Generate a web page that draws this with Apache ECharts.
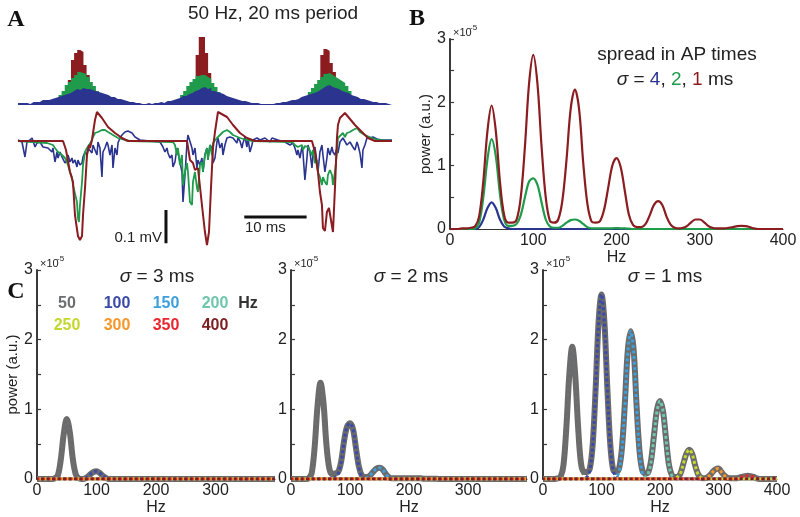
<!DOCTYPE html>
<html><head><meta charset="utf-8">
<script src="https://cdn.jsdelivr.net/npm/echarts@6/dist/echarts.min.js"></script>
<style>html,body{margin:0;padding:0;background:#fff}#c{width:800px;height:517px}</style>
</head><body><div id="c"></div>
<script>
// ---------- Panel A: AP-time histograms (0.5 ms bins, 0-60 ms) ----------
const histBlue = [2,2,2,1,3,3,3,5,5,5, 6,7,8,9,10,11,12,14,16,15, 17,16,16,15,14,13,12,11,10,8, 8,6,6,5,4,3,3,2,2,1,
  1,2,1,2,2,3,2,4,4,5, 6,7,9,9,11,12,14,15,17,18, 16,17,14,13,12,11,9,8,7,6, 5,4,4,3,2,2,2,1,1,1,
  1,1,2,2,3,3,4,5,5,6, 8,9,10,11,12,13,15,17,19,20, 18,17,16,14,13,12,10,9,8,6, 6,5,4,3,3,2,2,2,1,1];
const histGreen = [0,0,0,0,0,0,0,1,1,2, 3,4,6,10,14,20,23,27,30,33, 32,31,28,23,19,14,10,6,4,3, 2,1,1,0,0,0,0,0,0,0,
  0,0,0,0,0,0,1,1,2,3, 4,6,10,14,19,23,26,29,30,30, 28,26,22,18,13,9,6,4,3,2, 1,1,0,0,0,0,0,0,0,0,
  0,0,0,0,0,0,1,1,2,3, 4,6,9,13,17,21,25,28,31,32, 30,28,26,24,22,19,14,9,6,4, 2,1,1,0,0,0,0,0,0,0];
const histRed = [0,0,0,0,0,0,0,0,0,0, 0,0,0,0,5,12,25,45,52,55, 53,40,30,14,6,2,0,0,0,0, 0,0,0,0,0,0,0,0,0,0,
  0,0,0,0,0,0,0,0,0,0, 0,0,0,0,0,6,18,50,68,68, 52,32,14,5,0,0,0,0,0,0, 0,0,0,0,0,0,0,0,0,0,
  0,0,0,0,0,0,0,0,0,0, 0,0,0,0,0,8,20,50,56,54, 42,33,15,6,0,0,0,0,0,0, 0,0,0,0,0,0,0,0,0,0];
const histBinWidth = 0.5; // ms
const histEnd = 60;       // ms

// ---------- Panel A: simulated LFP traces [ms, µV] ----------
const traceRed = [[0,0],[7.22,0],[7.70,-27],[8.34,-93],[8.82,-123],[9.14,-222],[9.62,-285],[9.94,-297],[10.27,-285],[10.43,-222],[10.75,-141],[11.07,-42],[11.39,-12],[11.55,-21],[11.87,3],[12.35,63],[12.67,87],[13.47,69],[14.44,42],[15.56,24],[16.68,9],[17.64,0],
  [27.11,0],[27.59,-57],[28.07,-66],[28.39,-87],[28.87,-81],[29.51,-192],[29.99,-273],[30.32,-312],[30.64,-273],[30.96,-141],[31.28,-21],[31.60,27],[32.08,87],[33.53,72],[34.49,48],[35.61,24],[36.73,9],[38.01,0],
  [47.16,0],[47.64,-33],[48.12,-93],[48.44,-153],[48.76,-192],[48.92,-261],[49.24,-270],[49.56,-213],[49.89,-201],[50.21,-237],[50.53,-273],[50.85,-141],[51.17,9],[51.33,48],[51.65,69],[52.45,84],[54.06,48],[55.18,27],[56.14,9],[57.27,0],[60,0]];
const traceGreen = [[0,0],[4.65,-6],[4.81,-12],[5.61,-12],[5.93,-21],[6.42,-33],[7.06,-42],[7.54,-51],[8.02,-72],[8.34,-93],[8.66,-108],[8.82,-132],[9.14,-138],[9.46,-183],[9.62,-231],[9.78,-243],[9.94,-192],[10.27,-123],[10.43,-72],[10.75,-33],[11.07,-21],[11.39,-18],[11.71,-3],[12.03,12],[12.35,24],[12.83,27],[13.47,33],[13.95,33],[14.44,27],[15.24,18],[16.04,9],[17.16,3],[17.96,0],
  [24.86,-3],[25.18,-12],[25.50,-42],[25.66,-21],[25.98,-72],[26.31,-42],[26.47,-132],[26.79,-93],[27.11,-66],[27.27,-93],[27.59,-183],[27.91,-192],[28.07,-123],[28.39,-93],[28.71,-141],[28.87,-153],[29.19,-72],[29.51,-63],[29.67,-93],[29.99,-42],[30.32,-21],[30.48,-57],[30.80,-12],[31.12,-42],[31.28,-6],[31.92,9],[32.40,18],[32.88,27],[33.52,33],[34.00,27],[34.49,18],[35.61,9],[36.73,3],[37.69,0],
  [43.95,-3],[44.43,-12],[44.91,-18],[45.55,-12],[45.71,-27],[46.03,-15],[46.52,-18],[47.16,-42],[47.32,-27],[47.64,-66],[47.96,-57],[48.12,-93],[48.44,-108],[48.76,-132],[48.92,-108],[49.24,-123],[49.56,-132],[49.72,-102],[50.04,-87],[50.37,-102],[50.53,-132],[50.85,-93],[51.17,-33],[51.33,9],[51.65,12],[52.13,24],[52.45,12],[52.77,24],[53.25,27],[53.73,33],[54.38,39],[54.86,27],[55.66,18],[56.78,9],[57.74,3],[60,0]];
const traceBlue = [[0,3],[0.32,0],[0.64,-3],[1.12,-48],[1.44,-3],[1.92,3],[2.25,9],[2.41,0],[2.73,-18],[3.05,-6],[3.21,-12],[3.53,-3],[4.01,-18],[4.33,-12],[4.81,-21],[5.13,-21],[5.45,-33],[5.61,-21],[5.93,-63],[6.26,-33],[6.42,-51],[6.74,-33],[7.06,-48],[7.22,-42],[7.54,-66],[7.86,-57],[8.02,-42],[8.34,-63],[8.66,-51],[8.82,-66],[9.14,-57],[9.46,-78],[9.62,-57],[9.94,-72],[10.27,-66],[10.43,-48],[10.75,-33],[11.07,-42],[11.23,-21],[11.55,-18],[11.87,-36],[12.03,-12],[12.35,-6],[12.67,-42],[12.83,-3],[13.15,-21],[13.47,-108],[13.63,-33],[13.95,-21],[14.28,-3],[14.44,-12],[14.76,-42],[15.08,-12],[15.24,-81],[15.56,-21],[15.88,-42],[16.04,-6],[16.36,9],[16.68,18],[17.16,27],[17.64,30],[18.29,24],[18.77,12],[19.57,3],[21.17,0],
  [22.78,-3],[23.26,-18],[23.58,-33],[23.90,-21],[24.06,-36],[24.38,-51],[24.70,-42],[24.86,-78],[25.18,-63],[25.50,-21],[25.66,-33],[25.98,-63],[26.31,-93],[26.47,-183],[26.79,-102],[27.11,-6],[27.27,18],[27.59,12],[27.91,-21],[28.07,-42],[28.39,-21],[28.71,-81],[28.87,-57],[29.19,-72],[29.51,-51],[29.67,-93],[29.99,-42],[30.32,-21],[30.48,-51],[30.80,-12],[31.12,-21],[31.28,-66],[31.60,-51],[31.92,-3],[32.08,9],[32.40,-21],[32.72,-6],[32.88,-42],[33.20,-12],[33.52,9],[34.00,12],[34.49,9],[35.13,-6],[35.29,9],[35.61,0],[35.93,-21],[36.09,-6],[36.41,12],[36.73,-18],[36.89,9],[37.21,-33],[37.53,-12],[37.69,3],[38.34,9],[38.82,3],[39.62,9],[40.42,-3],[40.74,9],[41.70,3],
  [42.83,-3],[43.63,-12],[44.11,-6],[44.43,-21],[44.75,-42],[44.91,-27],[45.23,-51],[45.55,-18],[45.71,-33],[46.03,-117],[46.36,-51],[46.52,-12],[46.84,-33],[47.16,-81],[47.32,-42],[47.64,-18],[47.96,-63],[48.12,-93],[48.44,-33],[48.76,-12],[48.92,-42],[49.24,-93],[49.56,-51],[49.72,-21],[50.04,-42],[50.37,-18],[50.53,-33],[50.85,-42],[51.17,-21],[51.33,-36],[51.65,-3],[52.13,9],[52.77,-12],[53.25,-3],[53.73,-18],[54.06,-27],[54.38,-3],[54.54,-12],[54.86,-36],[55.18,-81],[55.34,-27],[55.66,-12],[55.98,9],[56.46,9],[56.94,12],[57.58,6],[58.38,3],[60,3]];
const scaleBarMvT = [23.74, 23.74], scaleBarMvV = [-207, -307];   // 0.1 mV bar
const scaleBarMsT = [36.3, 46.3], scaleBarMsV = [-228, -228];     // 10 ms bar

// ---------- Panel B: power spectra (x1e-5), 0..400 Hz step 5 ----------
const freqs = [0,5,10,15,20,25,30,35,40,45,50,55,60,65,70,75,80,85,90,95,100,105,110,115,120,125,130,135,140,145,150,155,160,165,170,175,180,185,190,195,200,205,210,215,220,225,230,235,240,245,250,255,260,265,270,275,280,285,290,295,300,305,310,315,320,325,330,335,340,345,350,355,360,365,370,375,380,385,390,395,400];
const specRed = [0,0,0,0.01,0.01,0.02,0.04,0.2,0.75,1.55, 1.95,1.55,0.75,0.22,0.1,0.1,0.15,0.5,1.3,2.3, 2.75,2.3,1.3,0.5,0.13,0.1,0.15,0.45,1.1,1.9,
  2.2,1.9,1.05,0.4,0.12,0.1,0.12,0.3,0.65,1.0, 1.12,0.98,0.6,0.22,0.06,0.03,0.03,0.08,0.22,0.38, 0.44,0.38,0.2,0.07,0.02,0.01,0.02,0.05,0.11,0.15,
  0.15,0.11,0.05,0.02,0.01,0.01,0.01,0.02,0.03,0.045, 0.05,0.045,0.03,0.01,0,0,0,0,0,0, 0];
const specGreen = [0,0,0,0,0,0,0.01,0.1,0.5,1.1, 1.42,1.15,0.55,0.15,0.05,0.05,0.08,0.22,0.5,0.75, 0.8,0.7,0.42,0.15,0.04,0.02,0.02,0.05,0.1,0.14,
  0.15,0.13,0.08,0.03,0.01,0.01,0.01,0.01,0.01,0.01, 0.015,0.01,0.01,0.005,0,0,0,0,0,0, 0,0,0,0,0,0,0,0,0,0,
  0,0,0,0,0,0,0,0,0,0, 0,0,0,0,0,0,0,0,0,0, 0];
const specBlue = [0,0,0,0,0,0,0,0.03,0.15,0.33, 0.42,0.33,0.15,0.04,0.01,0,0,0,0,0, 0,0,0,0,0,0,0,0,0,0,
  0,0,0,0,0,0,0,0,0,0, 0,0,0,0,0,0,0,0,0,0, 0,0,0,0,0,0,0,0,0,0,
  0,0,0,0,0,0,0,0,0,0, 0,0,0,0,0,0,0,0,0,0, 0];

// ---------- Panel C: total spectra (gray) and per-harmonic components ----------
const totalS3 = [0,0,0,0,0,0,0.01,0.05,0.28,0.65, 0.86,0.68,0.3,0.07,0.01,0,0.005,0.03,0.07,0.1, 0.11,0.09,0.05,0.02,0,0,0,0,0,0,
  0,0,0,0,0,0,0,0,0,0, 0,0,0,0,0,0,0,0,0,0, 0,0,0,0,0,0,0,0,0,0,
  0,0,0,0,0,0,0,0,0,0, 0,0,0,0,0,0,0,0,0,0, 0];
const totalS2 = [0,0,0,0,0,0,0.01,0.08,0.45,1.05, 1.38,1.1,0.5,0.15,0.07,0.08,0.1,0.25,0.55,0.75, 0.8,0.72,0.45,0.18,0.05,0.03,0.03,0.06,0.11,0.15,
  0.16,0.14,0.08,0.03,0.01,0.01,0.01,0.01,0.01,0.01, 0.01,0.01,0.01,0.01,0.01,0.005,0.005,0.005,0.005,0.005, 0,0,0,0,0,0,0,0,0,0,
  0,0,0,0,0,0,0,0,0,0, 0,0,0,0,0,0,0,0,0,0, 0];
const totalS1 = [0,0,0,0,0,0.01,0.03,0.2,0.75,1.5, 1.9,1.5,0.75,0.22,0.1,0.1,0.15,0.5,1.3,2.25, 2.65,2.25,1.3,0.5,0.13,0.1,0.15,0.45,1.1,1.85,
  2.12,1.85,1.05,0.4,0.12,0.08,0.1,0.28,0.65,1.0, 1.12,0.98,0.6,0.22,0.06,0.03,0.03,0.08,0.22,0.36, 0.42,0.36,0.2,0.07,0.02,0.01,0.02,0.05,0.1,0.14,
  0.15,0.1,0.05,0.02,0.01,0.01,0.01,0.02,0.03,0.04, 0.045,0.04,0.03,0.01,0,0,0,0,0,0, 0];
const harmonicLabels = ['50','100','150','200','250','300','350','400'];
const harmonicColors = ['#6d6e70','#3b4aa8','#3d9fdc','#6fc6ae','#c3d72f','#f7962b','#e8262e','#7a1e22'];
const compS3 = [
  [[0,0],[25,0],[30,0.01],[35,0.05],[40,0.28],[45,0.65],[50,0.86],[55,0.68],[60,0.3],[65,0.07],[70,0.01],[75,0],[400,0]],
  [[0,0],[75,0],[80,0.005],[85,0.03],[90,0.07],[95,0.1],[100,0.11],[105,0.09],[110,0.05],[115,0.02],[120,0],[400,0]],
  [[0,0],[400,0]],[[0,0],[400,0]],[[0,0],[400,0]],[[0,0],[400,0]],[[0,0],[400,0]],[[0,0],[400,0]]];
const compS2 = [
  [[0,0],[25,0],[30,0.01],[35,0.08],[40,0.45],[45,1.05],[50,1.38],[55,1.1],[60,0.5],[65,0.15],[70,0.04],[75,0.01],[80,0],[400,0]],
  [[0,0],[70,0],[75,0.02],[80,0.08],[85,0.24],[90,0.54],[95,0.75],[100,0.8],[105,0.72],[110,0.45],[115,0.17],[120,0.04],[125,0.01],[130,0],[400,0]],
  [[0,0],[125,0],[130,0.02],[135,0.06],[140,0.11],[145,0.15],[150,0.16],[155,0.14],[160,0.08],[165,0.03],[170,0.01],[175,0],[400,0]],
  [[0,0],[400,0]],[[0,0],[400,0]],[[0,0],[400,0]],[[0,0],[400,0]],[[0,0],[400,0]]];
const compS1 = [
  [[0,0],[20,0],[25,0.01],[30,0.03],[35,0.2],[40,0.75],[45,1.5],[50,1.9],[55,1.5],[60,0.75],[65,0.2],[70,0.04],[75,0],[400,0]],
  [[0,0],[65,0],[70,0.01],[75,0.03],[80,0.12],[85,0.48],[90,1.28],[95,2.23],[100,2.65],[105,2.23],[110,1.28],[115,0.48],[120,0.12],[125,0.03],[130,0.01],[135,0],[400,0]],
  [[0,0],[115,0],[120,0.01],[125,0.03],[130,0.1],[135,0.42],[140,1.05],[145,1.82],[150,2.12],[155,1.82],[160,1.05],[165,0.38],[170,0.08],[175,0.02],[180,0],[400,0]],
  [[0,0],[170,0],[175,0.02],[180,0.08],[185,0.26],[190,0.63],[195,0.98],[200,1.12],[205,0.98],[210,0.6],[215,0.22],[220,0.05],[225,0.01],[230,0],[400,0]],
  [[0,0],[220,0],[225,0.01],[230,0.03],[235,0.08],[240,0.22],[245,0.36],[250,0.42],[255,0.36],[260,0.2],[265,0.07],[270,0.02],[275,0],[400,0]],
  [[0,0],[275,0],[280,0.02],[285,0.05],[290,0.1],[295,0.14],[300,0.15],[305,0.1],[310,0.05],[315,0.02],[320,0],[400,0]],
  [[0,0],[330,0],[335,0.02],[340,0.03],[345,0.04],[350,0.045],[355,0.04],[360,0.03],[365,0.01],[370,0],[400,0]],
  [[0,0],[385,0],[390,0.005],[395,0.01],[400,0.01]]];
const sigmaTitlesC = ['3','2','1'];

// ---------- build chart ----------
const FONT = 'Liberation Sans, Arial, Helvetica, sans-serif';
const SERIF = 'Liberation Serif, Times New Roman, serif';
const C_BLUE = '#2b3590', C_GREEN = '#1f9b4b', C_RED = '#8b1c20';
const zip = arr => freqs.map((f, i) => [f, arr[i]]);
const histSteps = arr => arr.map((h, i) => [i * histBinWidth, h]).concat([[histEnd, arr[arr.length - 1]]]);

const gridsC = [{left:37,width:238},{left:291,width:236},{left:543,width:234}];
const grid = [
  {left:18, top:35, width:374, height:70},     // 0 hist
  {left:18, top:105, width:374, height:150},   // 1 traces
  {left:450, top:39, width:333, height:190},   // 2 B
];
gridsC.forEach(g => grid.push({left:g.left, top:270, width:g.width, height:209}));

function specX(gi, hide400, nameGap){
  return {type:'value', gridIndex:gi, min:0, max:400, interval:100,
    axisLine:{show:true, onZero:false, lineStyle:{color:'#333', width:1}},
    axisTick:{show:false}, splitLine:{show:false},
    axisLabel:{fontSize:16, color:'#222', fontFamily:FONT, margin:4,
      formatter: v => (hide400 && v === 400) ? '' : String(v)},
    name:'Hz', nameLocation:'middle', nameGap:nameGap,
    nameTextStyle:{fontSize:16, color:'#222', fontFamily:FONT}};
}
function specY(gi, named, gap){
  return {type:'value', gridIndex:gi, min:0, max:3, interval:0.5,
    axisLine:{show:true, lineStyle:{color:'#3a3a3a', width:2}},
    axisTick:{show:true, inside:true, length:4, lineStyle:{color:'#3a3a3a', width:1.2}},
    splitLine:{show:false},
    axisLabel:{fontSize:16, color:'#222', fontFamily:FONT, margin:4,
      formatter: v => (Math.abs(v - Math.round(v)) < 1e-6) ? String(Math.round(v)) : ''},
    name: named ? 'power (a.u.)' : '', nameLocation:'middle', nameGap:gap || 16,
    nameTextStyle:{fontSize:15, color:'#222', fontFamily:FONT}};
}

const xAxis = [
  {type:'value', gridIndex:0, min:0, max:histEnd, show:false},
  {type:'value', gridIndex:1, min:0, max:60, show:false},
  specX(2, false, 18),
  specX(3, true, 19), specX(4, true, 19), specX(5, false, 19)
];
const yAxis = [
  {type:'value', gridIndex:0, min:0, max:70, show:false},
  {type:'value', gridIndex:1, min:-342, max:108, show:false},
  specY(2, true, 16),
  specY(3, true, 16), specY(4, false), specY(5, false)
];

const series = [];
[[histRed, C_RED],[histGreen, C_GREEN],[histBlue, C_BLUE]].forEach(([d, c]) => {
  series.push({type:'line', xAxisIndex:0, yAxisIndex:0, data:histSteps(d), step:'end', showSymbol:false,
    lineStyle:{width:0, color:c}, areaStyle:{color:c, opacity:1}, silent:true});
});
[[traceBlue, C_BLUE, 1.6],[traceGreen, C_GREEN, 1.8],[traceRed, C_RED, 2]].forEach(([d, c, w]) => {
  series.push({type:'line', xAxisIndex:1, yAxisIndex:1, data:d, showSymbol:false, lineStyle:{color:c, width:w}});
});
series.push({type:'line', xAxisIndex:1, yAxisIndex:1, data:scaleBarMvT.map((t,i)=>[t, scaleBarMvV[i]]), showSymbol:false, lineStyle:{color:'#111', width:3}});
series.push({type:'line', xAxisIndex:1, yAxisIndex:1, data:scaleBarMsT.map((t,i)=>[t, scaleBarMsV[i]]), showSymbol:false, lineStyle:{color:'#111', width:3}});

[[specBlue, C_BLUE],[specGreen, C_GREEN],[specRed, C_RED]].forEach(([d, c]) => {
  series.push({type:'line', xAxisIndex:2, yAxisIndex:2, data:zip(d), smooth:0.35, showSymbol:false, lineStyle:{color:c, width:2.2}});
});

[[totalS3, compS3],[totalS2, compS2],[totalS1, compS1]].forEach(([tot, comps], p) => {
  const ai = 3 + p;
  series.push({type:'line', xAxisIndex:ai, yAxisIndex:ai, data:zip(tot), smooth:0.35, showSymbol:false,
    lineStyle:{color:'#6b6b6b', width:6}});
  comps.forEach((cd, k) => {
    series.push({type:'line', xAxisIndex:ai, yAxisIndex:ai, data:cd, smooth:0.35, showSymbol:false,
      lineStyle:{color:harmonicColors[k], width:3, type:[3,2.5], dashOffset:k}});
  });
});

// ---------- text annotations ----------
const graphic = [];
const txt = (x, y, text, o) => graphic.push({type:'text', x, y, silent:true,
  style:Object.assign({text, fill:'#222', font:'18px ' + FONT, textAlign:'center', textVerticalAlign:'middle'}, o || {})});
txt(16, 20, 'A', {font:'bold 24px ' + SERIF, fill:'#111'});
txt(417, 19, 'B', {font:'bold 24px ' + SERIF, fill:'#111'});
txt(16, 292, 'C', {font:'bold 24px ' + SERIF, fill:'#111'});
txt(273, 14, '50 Hz, 20 ms period', {font:'19px ' + FONT});
txt(162, 238, '0.1 mV', {font:'15px ' + FONT, textAlign:'right'});
txt(245, 228, '10 ms', {font:'15px ' + FONT, textAlign:'left'});
// x10^-5 multipliers
[[450,39],[37,270],[291,270],[543,270]].forEach(([ax, top]) => {
  txt(ax + 3, top - 6, '\u00d710', {font:'11px ' + FONT, textAlign:'left'});
  txt(ax + 20, top - 11, '-5', {font:'8px ' + FONT, textAlign:'left'});
});
// panel B legend
txt(677, 55, 'spread in AP times', {font:'19px ' + FONT});
graphic.push({type:'text', x:675, y:80, silent:true, style:{
  text:'{i|\u03c3} = {b|4}, {g|2}, {r|1} ms', font:'19px ' + FONT, fill:'#222',
  textAlign:'center', textVerticalAlign:'middle',
  rich:{i:{fontStyle:'italic', fontSize:19, fontFamily:FONT, fill:'#222'},
        b:{fill:C_BLUE, fontSize:19, fontFamily:FONT}, g:{fill:C_GREEN, fontSize:19, fontFamily:FONT}, r:{fill:C_RED, fontSize:19, fontFamily:FONT}}}});
// panel C titles
[[157],[411],[665]].forEach(([cx], i) => {
  graphic.push({type:'text', x:cx, y:277, silent:true, style:{
    text:'{i|\u03c3} = ' + sigmaTitlesC[i] + ' ms', font:'19px ' + FONT, fill:'#222',
    textAlign:'center', textVerticalAlign:'middle',
    rich:{i:{fontStyle:'italic', fontSize:19, fontFamily:FONT, fill:'#222'}}}});
});
// panel C harmonic legend
const legCols = [67, 117, 166, 215];
harmonicLabels.forEach((lab, k) => {
  txt(legCols[k % 4], k < 4 ? 304 : 326, lab, {font:'bold 16px ' + FONT, fill:harmonicColors[k]});
});
txt(248, 304, 'Hz', {font:'bold 16px ' + FONT, fill:'#333'});

const chart = echarts.init(document.getElementById('c'), null, {renderer:'canvas'});
chart.setOption({animation:false, backgroundColor:'#fff', grid, xAxis, yAxis, series, graphic});
</script></body></html>
